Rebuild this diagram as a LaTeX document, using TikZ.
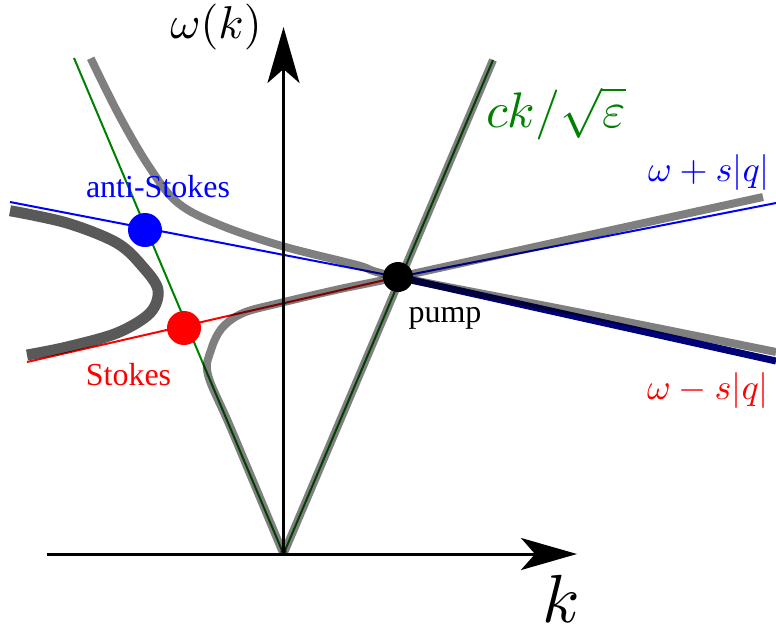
\documentclass[tikz,border=0pt]{standalone}
\usepackage{fontspec}
\setmainfont{Liberation Serif}
\usetikzlibrary{arrows.meta}
\definecolor{dgreen}{RGB}{0,128,0}
\definecolor{navy}{RGB}{0,0,120}
\begin{document}
\begin{tikzpicture}[x=0.5pt,y=-0.5pt,
  axis/.style={line width=1.5pt, -{Stealth[length=28pt,width=16pt,inset=7pt]}},
  cline/.style={line width=1pt},
  band/.style={line width=4pt, black, opacity=0.5},
  darkband/.style={line width=5.5pt, black, opacity=0.65},
  dot/.style={circle, inner sep=0pt, minimum size=17pt},
  lbl/.style={font=\rmfamily\fontsize{16}{18}\selectfont, inner sep=0pt, anchor=base},
  mlbl/.style={inner sep=0pt, anchor=base}]
\useasboundingbox (0,0) rectangle (776,632);
% coordinates
\coordinate (O) at (283.5,554);
\coordinate (xs) at (47,554);
\coordinate (xe) at (577,554);
\coordinate (ye) at (283.5,27);
\coordinate (gl) at (74,58);
\coordinate (gr) at (493,60);
\coordinate (bl) at (10,202);
\coordinate (rl) at (27,362);
\coordinate (br) at (776,203);
\coordinate (nr) at (776,361);
\coordinate (P) at (398,277);
% thin coloured lines
\draw[cline, dgreen] (O) -- (gl);
\draw[cline, dgreen] (O) -- (gr);
\draw[cline, blue] (bl) -- (P);
\draw[cline, red] (rl) -- (P);
\draw[cline, blue] (P) -- (br);
\draw[line width=3.5pt, navy] (P) -- (nr);
% axes
\draw[axis] (xs) -- (xe);
\draw[axis] (O) -- (ye);
% grey branches
\draw[band] (O) -- (gr);
\draw[band] plot[smooth, tension=0.6] coordinates {(90.7,58.3) (120,117) (150,168) (178,203) (220,225) (282,246) (357,265) (398,277) (587,314) (776,352)};
\draw[band] plot[smooth, tension=0.55] coordinates {(283.5,554) (231.6,430) (208,375) (211,350) (222,328) (243,313) (280,303) (340,289) (398,277) (580,237) (763,197)};
\draw[darkband] plot[smooth, tension=0.55] coordinates {(10,210.7) (67,223) (117,243) (143,267) (158,290) (150,313) (117,333) (67,347) (27,355)};
% dots
\node[dot, fill=blue] (aS) at (145,230) {};
\node[dot, fill=red] (S) at (184,328) {};
\node[dot, fill=black, minimum size=15pt] (pump) at (P) {};
% labels
\node[lbl, blue] (aSl) at (158,197) {anti-Stokes};
\node[lbl, red] (Sl) at (128.5,385) {Stokes};
\node[lbl] (pl) at (445,322) {pump};
\node[mlbl, scale=2.3] (wl) at (216,38.5) {$\omega(k)$};
\node[mlbl, text=dgreen, scale=2.5] (cl) at (556,127) {$ck/\sqrt{\varepsilon}$};
\node[mlbl, text=blue, scale=1.8] (wp) at (709,181) {$\omega+s|q|$};
\node[mlbl, text=red, scale=1.8] (wm) at (708,399) {$\omega-s|q|$};
\node[mlbl, scale=3.4] (kl) at (561,622) {$k$};
\end{tikzpicture}
\end{document}
